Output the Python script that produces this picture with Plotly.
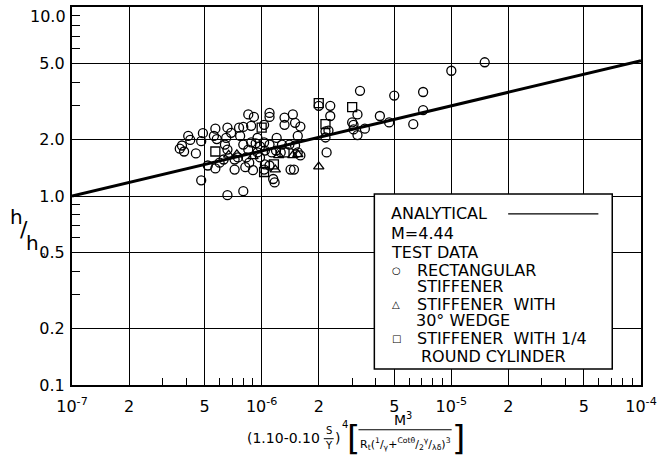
import plotly.graph_objects as go

# ---------------- data ----------------
# x values in units of 1e-6
circ_x_e6 = [0.37, 0.38, 0.41, 0.42, 0.45, 0.48, 0.49, 0.48, 0.52, 0.57, 0.57, 0.56, 0.58, 0.66, 0.69,
             0.64, 0.66, 0.63, 0.72, 0.72, 0.77, 0.76, 0.80, 0.88, 0.85, 0.91, 0.80, 0.85, 0.83, 0.82,
             0.90, 0.66, 0.80, 0.86, 0.88, 0.93, 0.95, 1.03, 1.10, 1.10, 1.03, 1.04, 1.10, 0.98, 1.04,
             1.03, 1.15, 1.17, 1.10, 1.20, 1.19, 1.32, 1.32, 1.46, 1.50, 1.60, 1.40, 1.60, 1.55, 1.42,
             2.00, 2.20, 2.17, 2.17, 2.30, 2.30, 2.25, 3.30, 3.20, 3.00, 3.05, 3.20, 3.50, 4.20, 4.70,
             5.00, 6.30, 7.10, 7.10, 10.0, 15.0, 1.50, 1.55, 1.48, 0.98, 1.13, 1.26, 1.28, 0.75, 0.60,
             0.95, 0.65, 0.39, 3.05]
circ_y = [1.78, 1.85, 2.08, 1.98, 1.68, 1.95, 2.15, 1.21, 1.45, 1.40, 2.27, 2.08, 2.00, 2.30, 2.16,
          1.87, 1.76, 1.56, 1.56, 1.38, 2.08, 2.30, 2.32, 2.35, 2.70, 2.62, 1.87, 1.76, 1.60, 1.42,
          1.37, 1.01, 1.06, 1.50, 1.92, 1.90, 1.70, 2.38, 2.75, 2.62, 1.92, 1.74, 1.87, 1.60, 1.47,
          1.38, 1.23, 1.18, 1.45, 2.03, 1.74, 2.60, 2.38, 2.70, 2.44, 2.33, 1.87, 1.64, 2.08, 1.38,
          3.00, 1.70, 2.20, 2.04, 3.00, 2.65, 2.22, 3.60, 2.70, 2.45, 2.25, 2.10, 2.27, 2.65, 2.45,
          3.40, 2.40, 3.55, 2.85, 4.60, 5.10, 1.85, 1.70, 1.38, 1.83, 1.70, 1.70, 1.87, 1.60, 1.50,
          2.03, 2.03, 1.72, 2.38]

tri_x_e6 = [0.67, 1.18, 1.23, 1.55, 2.00, 1.46, 0.90, 0.74]
tri_y = [1.65, 1.38, 1.64, 1.66, 1.43, 1.64, 1.62, 1.66]

sq_x_e6 = [0.57, 1.00, 1.03, 1.32, 2.00, 2.17, 3.00, 1.16]
sq_y = [1.72, 2.30, 1.34, 1.70, 3.10, 2.40, 2.95, 1.47]

analytical_x = [1e-7, 1e-4]
analytical_y = [1.0, 5.2]

x_tickvals = [1e-7, 2e-7, 5e-7, 1e-6, 2e-6, 5e-6, 1e-5, 2e-5, 5e-5, 1e-4]
x_ticktext = ["10<sup>-7</sup>", "2", "5", "10<sup>-6</sup>", "2", "5",
              "10<sup>-5</sup>", "2", "5", "10<sup>-4</sup>"]
y_tickvals = [0.1, 0.2, 0.5, 1.0, 2.0, 5.0, 10.0]
y_ticktext = ["0.1", "0.2", "0.5", "1.0", "2.0", "5.0", ""]

x_minor = [k * 10.0 ** e for e in (-7, -6, -5) for k in range(2, 10)]
y_minor = [k * 10.0 ** e for e in (-1, 0) for k in range(2, 10)]

# ---------------- figure ----------------
W, H = 662, 466
L, R, T, B = 72, 646, 5, 385
FONT = "DejaVu Sans"


def pxx(px):
    return (px - L) / (R - L)


def pxy(py):
    return (B - py) / (B - T)


fig = go.Figure()
fig.add_trace(go.Scatter(x=analytical_x, y=analytical_y, mode="lines",
                         line=dict(color="black", width=3), showlegend=False))
mk = dict(color="black", size=9, line=dict(color="black", width=1.3))
fig.add_trace(go.Scatter(x=[v * 1e-6 for v in circ_x_e6], y=circ_y, mode="markers",
                         marker=dict(symbol="circle-open", **mk), showlegend=False))
fig.add_trace(go.Scatter(x=[v * 1e-6 for v in tri_x_e6], y=tri_y, mode="markers",
                         marker=dict(symbol="triangle-up-open", **mk), showlegend=False))
fig.add_trace(go.Scatter(x=[v * 1e-6 for v in sq_x_e6], y=sq_y, mode="markers",
                         marker=dict(symbol="square-open", **mk), showlegend=False))

axis_common = dict(type="log", showgrid=True, gridcolor="black", gridwidth=1,
                   showline=True, linecolor="black", linewidth=2, mirror=True,
                   ticks="", zeroline=False,
                   tickfont=dict(family=FONT, size=16, color="black"))

fig.update_xaxes(range=[-7, -4], tickmode="array", tickvals=x_tickvals, ticktext=x_ticktext,
                 ticklabelstandoff=6,
                 minor=dict(tickmode="array", tickvals=x_minor, ticks="inside", ticklen=7,
                            tickcolor="black", tickwidth=1, showgrid=False),
                 **axis_common)
fig.update_yaxes(range=[-1, 1], tickmode="array", tickvals=y_tickvals, ticktext=y_ticktext,
                 ticklabelstandoff=2,
                 minor=dict(tickmode="array", tickvals=y_minor, ticks="inside", ticklen=8,
                            tickcolor="black", tickwidth=1, showgrid=False),
                 **axis_common)

ann = []


def text(px, py, s, size=16, xanchor="center", yanchor="middle"):
    ann.append(dict(xref="paper", yref="paper", x=pxx(px), y=pxy(py), text=s,
                    showarrow=False, xanchor=xanchor, yanchor=yanchor,
                    font=dict(family=FONT, size=size, color="black")))


# top y label
text(68, 15, "10.0", 16, xanchor="right")

# y axis title h/h0
text(16, 216, "h", 20)
text(24, 229, "/", 22)
text(32, 242, "h", 20)
text(43, 254, "o", 7)

# legend box
shapes = [dict(type="rect", xref="paper", yref="paper", x0=pxx(377), x1=pxx(617),
               y0=pxy(369), y1=pxy(193), line=dict(color="black", width=1.5),
               fillcolor="white", layer="above"),
          dict(type="line", xref="paper", yref="paper", x0=pxx(512), x1=pxx(603),
               y0=pxy(213), y1=pxy(213), line=dict(color="black", width=1.3), layer="above")]

LF = 16
text(392, 213, "ANALYTICAL", LF, xanchor="left")
text(392, 233, "M=4.44", LF, xanchor="left")
text(392, 252, "TEST DATA", LF, xanchor="left")
text(399, 270, "○", 10)
text(418, 270, "RECTANGULAR", LF, xanchor="left")
text(418, 286, "STIFFENER", LF, xanchor="left")
text(399, 304, "△", 10)
text(418, 304, "STIFFENER  WITH", LF, xanchor="left")
text(417, 320, "30° WEDGE", LF, xanchor="left")
text(399, 338, "□", 10)
text(418, 338, "STIFFENER  WITH 1/4", LF, xanchor="left")
text(422, 356, "ROUND CYLINDER", LF, xanchor="left")

# x axis title (formula)
text(285, 438, "(1.10-0.10", 14)
text(331, 431, "S", 10)
text(331, 446, "Y", 10)
shapes.append(dict(type="line", xref="paper", yref="paper", x0=pxx(326), x1=pxx(336),
                   y0=pxy(439), y1=pxy(439), line=dict(color="black", width=1)))
text(340, 438, ")", 14)
text(347, 425, "4", 10)
text(356, 438, "[", 34)
text(462, 438, "]", 34)
text(406, 419, "M<sup>3</sup>", 14)
shapes.append(dict(type="line", xref="paper", yref="paper", x0=pxx(361), x1=pxx(455),
                   y0=pxy(430), y1=pxy(430), line=dict(color="black", width=1.2)))
text(408, 444, "R<sub>t</sub>(<sup>1</sup>/<sub>γ</sub>+<sup>Cotθ</sup>/<sub>2</sub>"
     "<sup>γ</sup>/<sub>λδ</sub>)<sup>3</sup>", 11)

fig.update_layout(width=W, height=H, margin=dict(l=L, r=W - R, t=T, b=H - B),
                  paper_bgcolor="white", plot_bgcolor="white",
                  showlegend=False, annotations=ann, shapes=shapes)

fig.write_html("out.html")
